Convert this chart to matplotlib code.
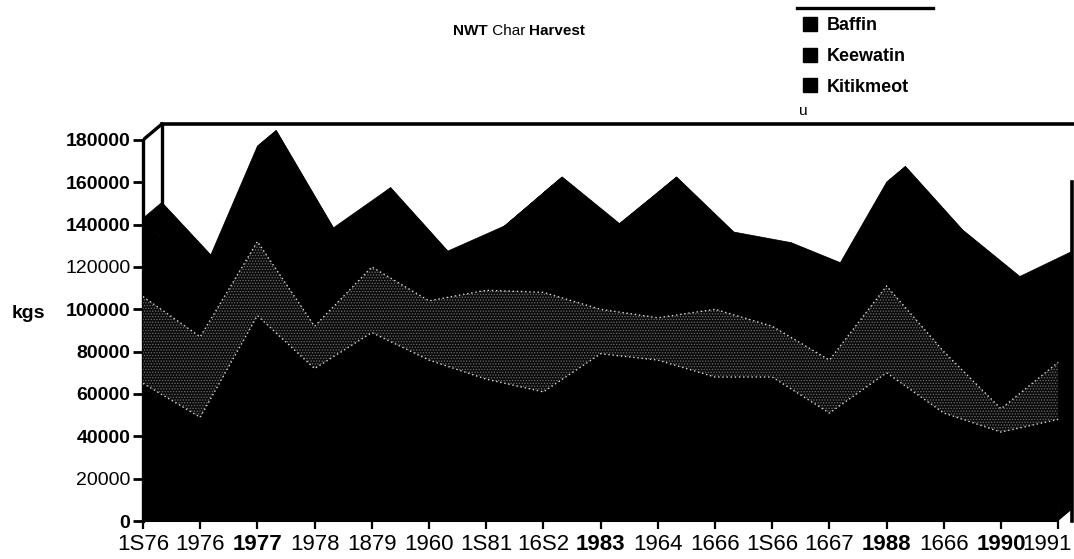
import matplotlib
matplotlib.use("Agg")
import matplotlib.pyplot as plt
import matplotlib.transforms as mtransforms
import numpy as np
from matplotlib.lines import Line2D
from matplotlib.patches import Patch

# harvest by region, kg, 1975-1991 (stacked bottom to top)
year_labels = ['1S76', '1976', '1977', '1978', '1879', '1960', '1S81', '16S2', '1983',
               '1964', '1666', '1S66', '1667', '1988', '1666', '1990', '1991']
bold_label_idx = [2, 8, 13, 15]
baffin = [65000, 49000, 97000, 72000, 89000, 76000, 67000, 61000, 79000,
          76000, 68000, 68000, 51000, 70000, 51000, 42000, 48000]
keewatin = [41000, 38000, 35000, 20000, 31000, 28000, 42000, 47000, 21000,
            20000, 32000, 24000, 25000, 41000, 29000, 11000, 27000]
kitikmeot = [37000, 27000, 45000, 39000, 30000, 16000, 23000, 47000, 33000,
             59000, 29000, 32000, 37000, 49000, 50000, 55000, 46000]
series_names = ['Baffin', 'Keewatin', 'Kitikmeot']

y_ticks = [0, 20000, 40000, 60000, 80000, 100000, 120000, 140000, 160000, 180000]
bold_ytick = [True, False, True, True, True, True, False, True, True, True]

# oblique depth of the 3-D ribbon
DX = 0.33
DY = 7500

W, H = 1074, 559
fig = plt.figure(figsize=(W / 100, H / 100), dpi=100)
ax = fig.add_axes([143 / W, (H - 521) / H, (1072 - 143) / W, (521 - 110) / H])

x = np.arange(len(year_labels))
stack = np.cumsum([baffin, keewatin, kitikmeot], axis=0)
lower, upper, total = stack

# walls behind the data
ymax_tick = y_ticks[-1]
ax.plot([0, DX], [ymax_tick, ymax_tick + DY], color='black', lw=2.4,
        solid_capstyle='projecting', zorder=1)
ax.plot([DX, DX], [0, ymax_tick + DY], color='black', lw=2.4, zorder=1)
ax.plot([DX, x[-1] + 2], [ymax_tick + DY] * 2, color='black', lw=2.6,
        clip_on=False, zorder=1)

# back face, top face, side face and front face of the stack
ax.fill_between(x + DX, DY, total + DY, color='black', lw=0, zorder=2)
for i in range(len(x) - 1):
    ax.fill([x[i], x[i + 1], x[i + 1] + DX, x[i] + DX],
            [total[i], total[i + 1], total[i + 1] + DY, total[i] + DY],
            color='black', lw=0.5, zorder=2)
ax.fill([x[-1], x[-1] + DX, x[-1] + DX, x[-1]],
        [0, DY, total[-1] + DY, total[-1]], color='black', lw=0, zorder=2)
ax.fill_between(x, 0, total, color='black', lw=0.5, zorder=2)

# Keewatin band (screened)
plt.rcParams['hatch.linewidth'] = 0.6
ax.fill_between(x, lower, upper, facecolor='#0a0a0a', edgecolor='#6e6e6e',
                hatch='......', lw=0, zorder=3)
for edge in (lower, upper):
    ax.plot(x, edge, color='#d8d8d8', lw=1.0, ls=(0, (1, 2)), zorder=4)

ax.set_xlim(0, (1072 - 143) / 57.2)
ax.set_ylim(0, 411 / 2.117 * 1000)

ax.spines['top'].set_visible(False)
ax.spines['left'].set_bounds(0, ymax_tick)
ax.spines['left'].set_linewidth(2.4)
ax.spines['right'].set_bounds(0, 160000)
ax.spines['right'].set_linewidth(2.6)
ax.spines['bottom'].set_linewidth(1.5)
ax.spines['bottom'].set_bounds(0, x[-1])

ax.set_xticks(x)
ax.set_xticklabels(year_labels, family='Liberation Sans', fontsize=16)
ax.set_yticks(y_ticks)
ax.set_yticklabels([str(v) for v in y_ticks], family='Liberation Sans', fontsize=14)
ax.tick_params(axis='x', direction='out', length=6, width=1.6, pad=3)
ax.tick_params(axis='y', direction='out', length=7, width=2, pad=2)

xlabels = ax.get_xticklabels()
for i in bold_label_idx:
    xlabels[i].set_fontweight('bold')
# last label sits a little left, clear of the edge
xlabels[-1].set_transform(xlabels[-1].get_transform() +
                          mtransforms.ScaledTranslation(-0.11, 0, fig.dpi_scale_trans))
for lab, b in zip(ax.get_yticklabels(), bold_ytick):
    lab.set_fontweight('bold' if b else 'normal')

fig.text(28 / W, 1 - 313 / H, 'kgs', family='Liberation Sans', fontweight='bold',
         fontsize=14, ha='center', va='center')

# title with mixed weights
t1 = fig.text(453 / W, 1 - 31 / H, 'NWT', family='Liberation Sans', fontweight='bold',
              fontsize=11, ha='left', va='center')
t2 = ax.annotate(' Char ', xy=(1, 0), xycoords=t1, va='bottom', ha='left',
                 family='Liberation Sans', fontsize=11)
ax.annotate('Harvest', xy=(1, 0), xycoords=t2, va='bottom', ha='left',
            family='Liberation Sans', fontweight='bold', fontsize=11)

# legend
handles = [Patch(facecolor='black', edgecolor='black') for _ in series_names]
fig.legend(handles, series_names, loc='upper left',
           bbox_to_anchor=(803 / W, 1 - 17 / H), frameon=False,
           prop={'family': 'Liberation Sans', 'weight': 'bold', 'size': 13},
           handlelength=0.8, handleheight=0.8, handletextpad=0.5,
           labelspacing=0.75, borderpad=0, borderaxespad=0)
fig.add_artist(Line2D([797 / W, 933 / W], [1 - 8 / H] * 2, color='black', lw=2.4))
fig.text(803 / W, 1 - 111 / H, 'u', family='Liberation Sans', fontsize=11,
         ha='center', va='center')

fig.savefig('out.png', dpi=100)
